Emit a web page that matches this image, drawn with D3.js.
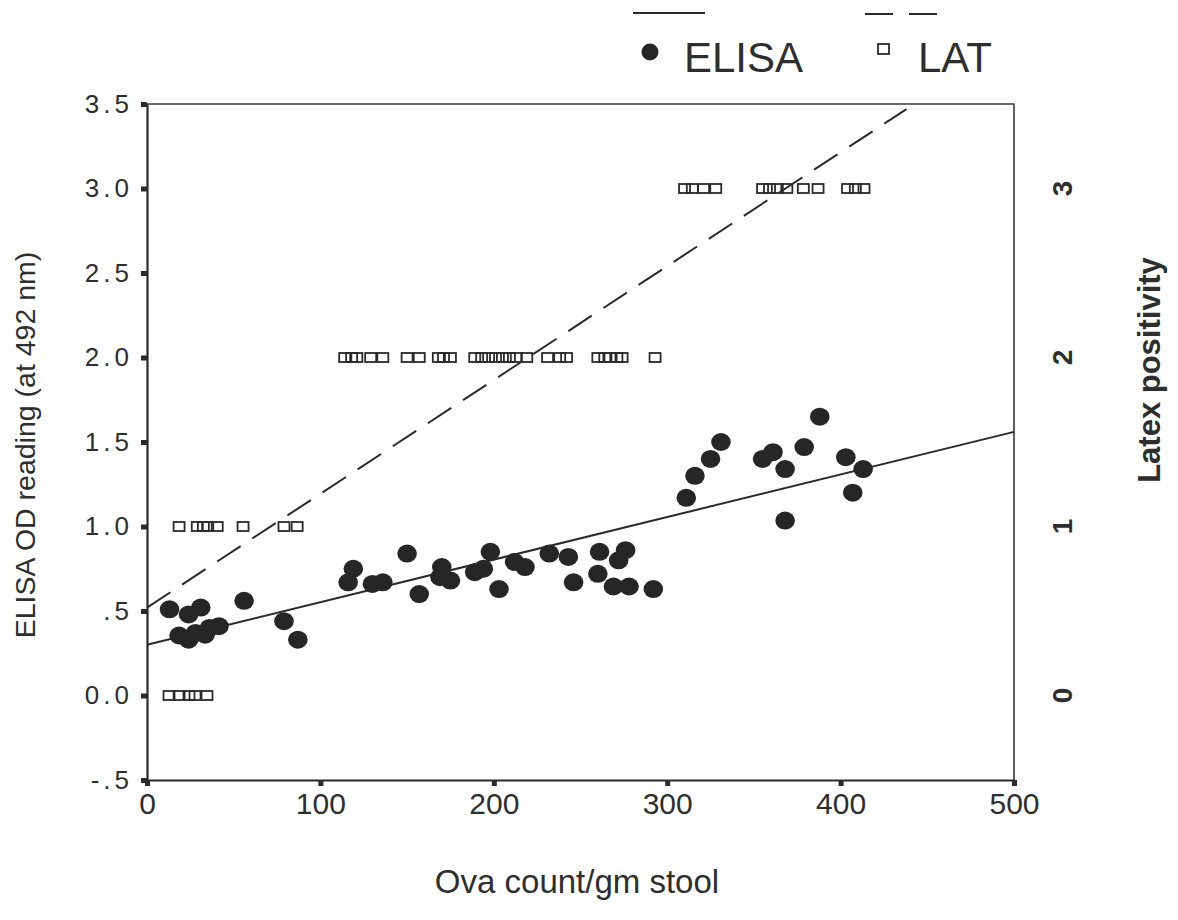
<!DOCTYPE html>
<html>
<head>
<meta charset="utf-8">
<script src="https://cdn.jsdelivr.net/npm/d3@7"></script>
<style>
  body { margin: 0; background: #fff; }
  text { font-family: Arial, "Liberation Sans", sans-serif; fill: #2e2e2e; }
</style>
</head>
<body>
<div id="chart"></div>
<script>
// ELISA readings (ova count, OD at 492 nm)
var elisaOva = [13, 24, 31, 18.5, 24, 28, 33.5, 36, 41.5, 56, 79, 87,
    116, 119, 130, 136, 150, 157, 170, 169, 175, 189, 194, 198, 203, 212, 218,
    232, 243, 246, 260, 261, 269, 272, 276, 278, 292,
    311, 316, 325, 331, 355, 361, 368, 368, 379, 388, 403, 407, 413];
var elisaOD = [0.51, 0.48, 0.52, 0.355, 0.33, 0.37, 0.36, 0.40, 0.41, 0.56, 0.44, 0.33,
    0.67, 0.75, 0.66, 0.67, 0.84, 0.60, 0.76, 0.70, 0.68, 0.73, 0.75, 0.85, 0.63, 0.79, 0.76,
    0.84, 0.82, 0.67, 0.72, 0.85, 0.645, 0.80, 0.86, 0.645, 0.63,
    1.17, 1.30, 1.40, 1.50, 1.40, 1.44, 1.34, 1.035, 1.47, 1.65, 1.41, 1.20, 1.34];

// Latex agglutination (ova count, positivity grade)
var latOva = [12.7, 18.5, 24.2, 27.7, 34.6,
    18.5, 29, 32.5, 35, 40.5, 55.4, 79, 86.6,
    114, 118, 121, 129, 136, 150, 157, 168, 171, 175, 189, 193, 197, 201, 205, 209, 213, 219,
    231, 238, 242, 260, 264, 267, 271, 274, 293,
    310, 314.5, 321, 328, 355, 359, 363.5, 369, 378.5, 387, 404, 408.5, 413.5];
var latGrade = [0, 0, 0, 0, 0,
    1, 1, 1, 1, 1, 1, 1, 1,
    2, 2, 2, 2, 2, 2, 2, 2, 2, 2, 2, 2, 2, 2, 2, 2, 2, 2,
    2, 2, 2, 2, 2, 2, 2, 2, 2,
    3, 3, 3, 3, 3, 3, 3, 3, 3, 3, 3, 3, 3];

// fitted lines
var elisaFit = [[0, 0.30], [500, 1.56]];
var latFit = [[0, 0.52], [438, 3.47]];

var xTicks = [0, 100, 200, 300, 400, 500];
var yTicks = [-0.5, 0, 0.5, 1.0, 1.5, 2.0, 2.5, 3.0, 3.5];
var yTickLabels = ["-.5", "0.0", ".5", "1.0", "1.5", "2.0", "2.5", "3.0", "3.5"];
var latTicks = [0, 1, 2, 3];

var W = 1178, H = 920;
var svg = d3.select("#chart").append("svg")
    .attr("width", W).attr("height", H);

var x = d3.scaleLinear().domain([0, 500]).range([147, 1014]);
var y = d3.scaleLinear().domain([-0.5, 3.5]).range([780, 104]);

var ink = "#2a2a2a";

// frame (top and right)
svg.append("path")
    .attr("d", "M" + x(0) + "," + y(3.5) + "H" + x(500) + "V" + y(-0.5))
    .attr("fill", "none").attr("stroke", "#3a3a3a").attr("stroke-width", 1.6);

// left axis
var yAxis = svg.append("g")
    .attr("transform", "translate(" + x(0) + ",0)")
    .call(d3.axisLeft(y).tickValues(yTicks).tickSize(0).tickPadding(14)
        .tickFormat(function (d, i) { return yTickLabels[i]; }));
yAxis.select(".domain").attr("stroke", ink).attr("stroke-width", 2.2);
yAxis.selectAll(".tick text")
    .style("font-size", "26px").style("letter-spacing", "4px").attr("fill", "#333");
yAxis.selectAll(".tick").append("rect")
    .attr("x", -6).attr("y", -2.5).attr("width", 6).attr("height", 5).attr("fill", ink);

// bottom axis
var xAxis = svg.append("g")
    .attr("transform", "translate(0," + y(-0.5) + ")")
    .call(d3.axisBottom(x).tickValues(xTicks).tickSize(0).tickPadding(13)
        .tickFormat(d3.format("d")));
xAxis.select(".domain").attr("stroke", ink).attr("stroke-width", 2.2);
xAxis.selectAll(".tick text")
    .style("font-size", "30px").attr("fill", "#333");
xAxis.selectAll(".tick").append("rect")
    .attr("x", -2.5).attr("y", 0).attr("width", 5).attr("height", 6).attr("fill", ink);

// right axis labels (latex grade, same scale as OD)
svg.append("g").selectAll("text")
    .data(latTicks).enter().append("text")
    .attr("transform", function (d) { return "translate(1062," + y(d) + ") rotate(-90)"; })
    .attr("text-anchor", "middle").attr("dominant-baseline", "central")
    .style("font-size", "28px").style("font-weight", "bold").attr("fill", "#111")
    .text(function (d) { return d; });

// axis titles
svg.append("text")
    .attr("transform", "translate(35,445) rotate(-90)")
    .attr("text-anchor", "middle")
    .style("font-size", "28.5px").attr("fill", "#333")
    .text("ELISA OD reading (at 492 nm)");

svg.append("text")
    .attr("x", 577).attr("y", 893)
    .attr("text-anchor", "middle")
    .style("font-size", "33px").attr("fill", "#333")
    .text("Ova count/gm stool");

svg.append("text")
    .attr("transform", "translate(1160,370) rotate(-90)")
    .attr("text-anchor", "middle")
    .style("font-size", "31px").style("font-weight", "bold").attr("fill", "#111")
    .text("Latex positivity");

// LAT squares
svg.append("g").selectAll("rect")
    .data(latOva).enter().append("rect")
    .attr("x", function (d) { return x(d) - 5.5; })
    .attr("y", function (d, i) { return y(latGrade[i]) - 4.5; })
    .attr("width", 11).attr("height", 9)
    .attr("fill", "none").attr("stroke", ink).attr("stroke-width", 1.8);

// fit lines
var line = d3.line().x(function (d) { return x(d[0]); }).y(function (d) { return y(d[1]); });
svg.append("path").datum(latFit).attr("d", line)
    .attr("fill", "none").attr("stroke", ink).attr("stroke-width", 2)
    .attr("stroke-dasharray", "28,14");
svg.append("path").datum(elisaFit).attr("d", line)
    .attr("fill", "none").attr("stroke", ink).attr("stroke-width", 2);

// ELISA dots
svg.append("g").selectAll("ellipse")
    .data(elisaOva).enter().append("ellipse")
    .attr("cx", function (d) { return x(d); })
    .attr("cy", function (d, i) { return y(elisaOD[i]); })
    .attr("rx", 9.8).attr("ry", 9)
    .attr("fill", "#262626");

// legend
var legend = svg.append("g");
legend.append("line").attr("x1", 633).attr("x2", 705).attr("y1", 13).attr("y2", 13)
    .attr("stroke", ink).attr("stroke-width", 2);
legend.append("line").attr("x1", 865).attr("x2", 937).attr("y1", 14).attr("y2", 14)
    .attr("stroke", ink).attr("stroke-width", 2).attr("stroke-dasharray", "28,16");
legend.append("circle").attr("cx", 650).attr("cy", 52).attr("r", 8.5).attr("fill", "#262626");
legend.append("text").attr("x", 684).attr("y", 72)
    .style("font-size", "42px").attr("fill", "#333").text("ELISA");
legend.append("rect").attr("x", 878).attr("y", 44).attr("width", 11).attr("height", 10)
    .attr("fill", "none").attr("stroke", ink).attr("stroke-width", 1.8);
legend.append("text").attr("x", 918).attr("y", 72)
    .style("font-size", "42px").attr("fill", "#333").text("LAT");
</script>
</body>
</html>
